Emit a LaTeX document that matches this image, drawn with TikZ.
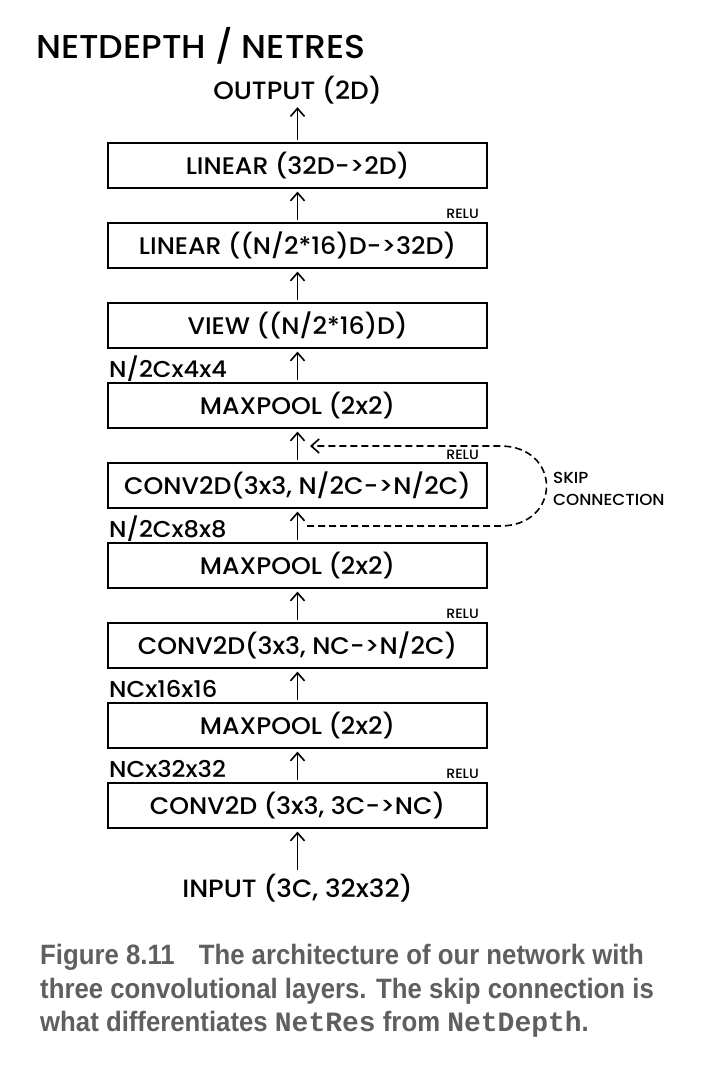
\documentclass[tikz,border=0pt]{standalone}
\usepackage{fontspec}
\setmainfont{Poppins}[UprightFont=* Medium, FakeStretch=1.05]
\newfontfamily\capfont[FakeStretch=0.92]{Liberation Sans Bold}
\newfontfamily\capmono{Liberation Mono Bold}
\usetikzlibrary{arrows.meta}
\definecolor{capgray}{HTML}{5E5F61}
\begin{document}
\begin{tikzpicture}[x=1pt,y=-1pt,
  layer/.style={draw, line width=1.2pt, minimum width=379pt, minimum height=45pt,
    inner sep=0pt, font=\fontsize{24}{28}\selectfont},
  up/.style={line width=1.6pt, -{Straight Barb[length=8pt,width=14pt,line width=1.6pt]}},
  skip/.style={line width=1.6pt, dash pattern=on 7pt off 4pt,
    -{Straight Barb[length=8pt,width=14pt,line width=1.6pt]}},
  shape label/.style={font=\fontsize{23}{26}\selectfont, inner sep=0pt, anchor=base west},
  act/.style={font=\fontsize{13.5}{16}\selectfont, inner sep=0pt, anchor=base east},
  io/.style={font=\fontsize{25}{28}\selectfont, inner sep=2pt}]
\useasboundingbox (0,0) rectangle (712,1080);

% title
\node[font=\fontsize{33}{36}\selectfont, inner sep=0pt, anchor=base west] (title) at (36,58) {NETDEPTH / NETRES};

% layers, top to bottom
\node[layer] (l1) at (297.5,165.5) {LINEAR (32D->2D)};
\node[layer] (l2) at (297.5,245.5) {LINEAR ((N/2*16)D->32D)};
\node[layer] (l3) at (297.5,325.5) {VIEW ((N/2*16)D)};
\node[layer] (l4) at (297.5,405.5) {MAXPOOL (2x2)};
\node[layer] (l5) at (297.5,485.5) {CONV2D(3x3, N/2C->N/2C)};
\node[layer] (l6) at (297.5,565.5) {MAXPOOL (2x2)};
\node[layer] (l7) at (297.5,645.5) {CONV2D(3x3, NC->N/2C)};
\node[layer] (l8) at (297.5,725.5) {MAXPOOL (2x2)};
\node[layer] (l9) at (297.5,805.5) {CONV2D (3x3, 3C->NC)};

% input and output
\node[io] (out) at (297.5,90) {OUTPUT (2D)};
\node[io] (in) at (297.5,888) {INPUT (3C, 32x32)};

% data flow
\draw[up] ([yshift=2pt]l1.north) -- ([yshift=-1pt]out.south);
\draw[up] ([yshift=2pt]l2.north) -- ([yshift=-3pt]l1.south);
\draw[up] ([yshift=2pt]l3.north) -- ([yshift=-3pt]l2.south);
\draw[up] ([yshift=2pt]l4.north) -- ([yshift=-3pt]l3.south);
\draw[up] ([yshift=2pt]l5.north) -- ([yshift=-3pt]l4.south);
\draw[up] ([yshift=2pt]l6.north) -- ([yshift=-3pt]l5.south);
\draw[up] ([yshift=2pt]l7.north) -- ([yshift=-3pt]l6.south);
\draw[up] ([yshift=2pt]l8.north) -- ([yshift=-3pt]l7.south);
\draw[up] ([yshift=2pt]l9.north) -- ([yshift=-3pt]l8.south);
\draw[up] ([yshift=2pt]in.north) -- ([yshift=-3pt]l9.south);

% tensor shapes
\node[shape label] (s4) at (109,377) {N/2Cx4x4};
\node[shape label] (s6) at (109,537) {N/2Cx8x8};
\node[shape label] (s8) at (109,697) {NCx16x16};
\node[shape label] (s9) at (109,777) {NCx32x32};

% activations
\node[act] (a2) at (479,218) {RELU};
\node[act] (a5) at (479,459) {RELU};
\node[act] (a7) at (479,618) {RELU};
\node[act] (a9) at (479,778) {RELU};

% skip connection
\coordinate (skipfrom) at (307,526);
\coordinate (skipto) at (310,446);
\draw[skip] (skipfrom) -- (500,526) .. controls (562,526) and (562,446) .. (500,446) -- (skipto);
\node[font=\fontsize{16}{22}\selectfont, inner sep=0pt, anchor=west, align=left] (skiplabel) at (553,489) {SKIP\\CONNECTION};

% caption
\node[anchor=north west, inner sep=0pt, align=left, text=capgray,
  font=\capfont\fontsize{28}{33.5}\selectfont] (caption) at (40,944)
  {Figure 8.11\hspace{24pt}The architecture of our network with\\
   three convolutional layers. The skip connection is\\
   what differentiates {\capmono NetRes} from {\capmono NetDepth}.};
\end{tikzpicture}
\end{document}
